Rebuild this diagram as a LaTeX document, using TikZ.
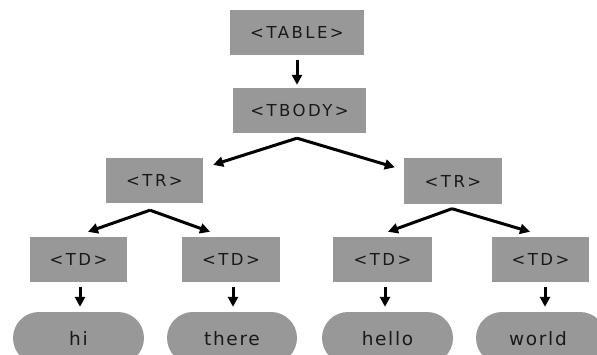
\documentclass[tikz,border=0pt]{standalone}
\usepackage{fontspec}
\setmainfont{DejaVu Sans}
\newfontfamily\boxfont[LetterSpace=15]{DejaVu Sans}
\newfontfamily\ovalfont[LetterSpace=9]{DejaVu Sans}
\usetikzlibrary{arrows.meta}
\definecolor{boxgray}{RGB}{152,152,152}
\tikzset{
  tagbox/.style={rectangle, fill=boxgray, inner sep=0pt, minimum height=45pt,
    font=\boxfont\fontsize{16.5}{19}\selectfont, text=black!90},
  leaf/.style={rectangle, rounded corners=26pt, fill=boxgray, inner sep=0pt,
    minimum height=52pt},
  leaftext/.style={font=\ovalfont\fontsize{18.5}{21}\selectfont, text=black!90, anchor=base},
  arr/.style={line width=3pt, draw=black, -{Triangle[length=10pt,width=10pt]}}
}
\begin{document}
\begin{tikzpicture}[x=1pt,y=1pt]
\useasboundingbox (0,0) rectangle (597,354);
\clip (0,0) rectangle (597,354);
\node[tagbox, minimum width=134pt] (table) at (297,321.5) {<TABLE>};
\node[tagbox, minimum width=133pt] (tbody) at (299.5,243.5) {<TBODY>};
\node[tagbox, minimum width=97pt] (trl) at (154.5,173.5) {<TR>};
\node[tagbox, minimum width=98pt] (trr) at (453,173) {<TR>};
\node[tagbox, minimum width=97pt] (td1) at (78.5,94.5) {<TD>};
\node[tagbox, minimum width=98pt] (td2) at (231,94.5) {<TD>};
\node[tagbox, minimum width=99pt] (td3) at (382.5,94.5) {<TD>};
\node[tagbox, minimum width=97pt] (td4) at (540.5,94.5) {<TD>};
\node[leaf, minimum width=131pt] (hi) at (78.5,16) {};
\node[leaf, minimum width=130pt] (there) at (232,16) {};
\node[leaf, minimum width=131pt] (hello) at (387.5,16) {};
\node[leaf, minimum width=130pt] (world) at (541,16) {};
\node[leaftext] (thi) at ([yshift=-7pt]hi.center) {hi};
\node[leaftext] (tthere) at ([yshift=-7pt]there.center) {there};
\node[leaftext] (thello) at ([yshift=-7pt]hello.center) {hello};
\node[leaftext] (tworld) at ([xshift=-3pt,yshift=-7pt]world.center) {world};
% connectors
\draw[arr] ([yshift=-5pt]table.south) -- ([xshift=-2.5pt,yshift=3pt]tbody.north);
\draw[arr] ([xshift=-2.5pt,yshift=-5pt]tbody.south) -- ([xshift=10pt,yshift=-7pt]trl.north east);
\draw[arr] ([xshift=-2.5pt,yshift=-5pt]tbody.south) -- ([xshift=-9pt,yshift=-9pt]trr.north west);
\draw[arr] ([xshift=-4.5pt,yshift=-7pt]trl.south) -- ([xshift=9.5pt,yshift=5pt]td1.north);
\draw[arr] ([xshift=-4.5pt,yshift=-7pt]trl.south) -- ([xshift=-21pt,yshift=5pt]td2.north);
\draw[arr] ([xshift=-1pt,yshift=-5pt]trr.south) -- ([xshift=5.5pt,yshift=5pt]td3.north);
\draw[arr] ([xshift=-1pt,yshift=-5pt]trr.south) -- ([xshift=-10.5pt,yshift=5pt]td4.north);
\draw[arr] ([xshift=1.5pt,yshift=-5pt]td1.south) -- ([xshift=1.5pt,yshift=5pt]td1.south |- hi.north);
\draw[arr] ([xshift=2pt,yshift=-5pt]td2.south) -- ([xshift=2pt,yshift=5pt]td2.south |- there.north);
\draw[arr] ([xshift=2.5pt,yshift=-5pt]td3.south) -- ([xshift=2.5pt,yshift=5pt]td3.south |- hello.north);
\draw[arr] ([xshift=4.5pt,yshift=-5pt]td4.south) -- ([xshift=4.5pt,yshift=5pt]td4.south |- world.north);
\end{tikzpicture}
\end{document}
